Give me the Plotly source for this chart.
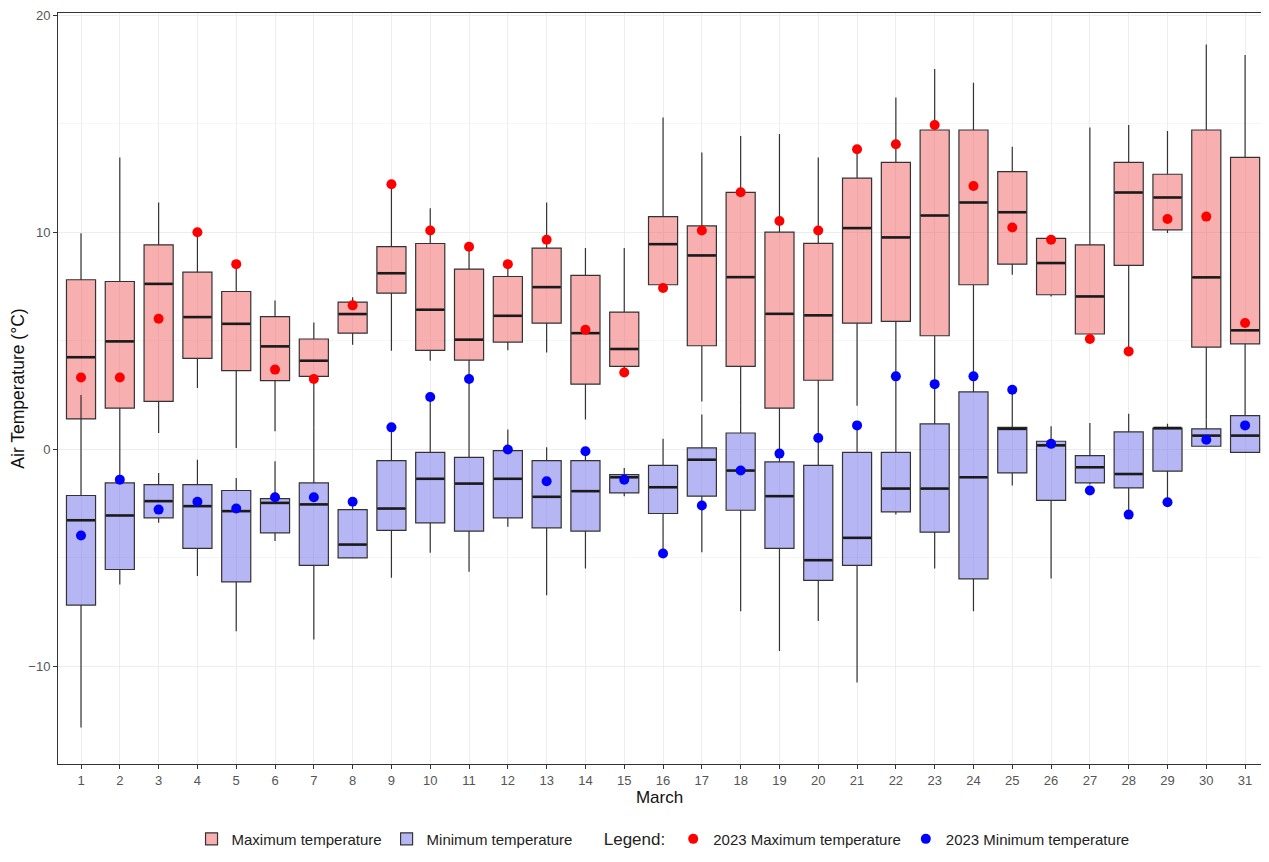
import plotly.graph_objects as go

days = list(range(1, 32))

# daily maximum temperature, box statistics
max_lf = [1.4, 0.2, 0.75, 2.82, 0.06, 0.83, 1.0, 4.82, 4.54, 4.08, 3.3, 4.56, 4.46, 1.37, 3.74, 7.58,
          2.2, 2.0, 0.0, 0.6, 2.0, 3.4, 3.0, 3.4, 8.04, 7.04, 5.31, 4.5, 9.96, 1.37, 1.55]
max_q1 = [1.40, 1.90, 2.21, 4.19, 3.62, 3.16, 3.36, 5.35, 7.19, 4.56, 4.11, 4.94, 5.81, 3.00, 3.82, 7.58,
          4.77, 3.82, 1.90, 3.18, 5.81, 5.89, 5.23, 7.58, 8.53, 7.12, 5.31, 8.47, 10.11, 4.71, 4.86]
max_med = [4.24, 4.97, 7.62, 6.09, 5.78, 4.74, 4.08, 6.23, 8.11, 6.43, 5.05, 6.15, 7.47, 5.35, 4.62, 9.45,
           8.93, 7.93, 6.24, 6.17, 10.19, 9.76, 10.77, 11.37, 10.92, 8.58, 7.04, 11.83, 11.60, 7.92, 5.48]
max_q3 = [7.81, 7.73, 9.42, 8.16, 7.27, 6.11, 5.08, 6.78, 9.34, 9.48, 8.30, 7.96, 9.27, 8.01, 6.32, 10.72,
          10.29, 11.84, 10.00, 9.49, 12.49, 13.22, 14.71, 14.71, 12.79, 9.72, 9.42, 13.22, 12.67, 14.71, 13.45]
max_uf = [9.95, 13.44, 11.37, 10.0, 8.53, 6.85, 5.84, 7.0, 12.21, 11.11, 9.33, 8.53, 11.37, 9.27, 9.27, 15.29,
          13.67, 14.43, 14.53, 13.44, 13.82, 16.21, 17.52, 16.89, 13.94, 9.72, 14.82, 14.94, 14.66, 18.65, 18.16]

# daily minimum temperature, box statistics
min_lf = [-12.82, -6.23, -3.39, -5.84, -8.38, -4.23, -8.76, -5.00, -5.92, -4.77, -5.64, -3.57, -6.72, -5.49,
          -2.16, -4.80, -4.74, -7.46, -9.29, -7.91, -10.75, -3.01, -5.49, -7.46, -1.67, -5.95, -1.62, -3.01,
          -2.44, 0.14, -0.14]
min_q1 = [-7.18, -5.54, -3.16, -4.57, -6.11, -3.85, -5.35, -5.00, -3.74, -3.39, -3.77, -3.16, -3.62, -3.77,
          -2.01, -2.96, -2.16, -2.81, -4.57, -6.04, -5.35, -2.88, -3.82, -5.97, -1.09, -2.35, -1.55, -1.78,
          -1.01, 0.14, -0.14]
min_med = [-3.27, -3.05, -2.39, -2.62, -2.85, -2.47, -2.54, -4.39, -2.73, -1.36, -1.58, -1.36, -2.19, -1.93,
           -1.29, -1.75, -0.48, -0.98, -2.16, -5.11, -4.08, -1.81, -1.81, -1.29, 0.94, 0.18, -0.83, -1.14,
           0.98, 0.63, 0.63]
min_q3 = [-2.13, -1.55, -1.63, -1.63, -1.90, -2.27, -1.55, -2.78, -0.52, -0.14, -0.37, -0.06, -0.52, -0.52,
          -1.17, -0.74, 0.06, 0.75, -0.58, -0.74, -0.14, -0.14, 1.17, 2.64, 1.01, 0.37, -0.29, 0.80,
          0.98, 0.94, 1.55]
min_uf = [2.5, 0.2, -1.09, -0.48, -1.32, -0.55, 1.0, -2.62, 1.01, 2.4, 3.2, 0.91, 0.09, 0.0,
          -0.86, 0.48, 1.6, 2.0, -0.2, 0.52, 1.1, 3.3, 3.0, 3.36, 2.74, 1.06, 1.21, 1.64,
          1.18, 1.37, 1.55]

# 2023 observations
max_2023 = [3.31, 3.31, 6.01, 10.0, 8.53, 3.67, 3.24, 6.63, 12.21, 10.08, 9.33, 8.53, 9.65, 5.51, 3.54, 7.43,
            10.08, 11.84, 10.52, 10.08, 13.82, 14.05, 14.94, 12.13, 10.22, 9.65, 5.08, 4.51, 10.61, 10.72, 5.82]
min_2023 = [-3.97, -1.40, -2.78, -2.42, -2.73, -2.21, -2.21, -2.42, 1.01, 2.41, 3.24, -0.01, -1.47, -0.09,
            -1.40, -4.80, -2.59, -0.98, -0.20, 0.52, 1.10, 3.36, 3.00, 3.36, 2.74, 0.25, -1.90, -3.01,
            -2.44, 0.44, 1.10]

edge = "#333333"
fig = go.Figure()
fig.add_trace(go.Box(x=days, q1=max_q1, median=max_med, q3=max_q3, lowerfence=max_lf, upperfence=max_uf,
                     name="Maximum temperature", fillcolor="rgba(240,96,96,0.5)", width=0.75,
                     line=dict(color=edge, width=1.2), boxpoints=False, whiskerwidth=0, hoverinfo="skip"))
fig.add_trace(go.Box(x=days, q1=min_q1, median=min_med, q3=min_q3, lowerfence=min_lf, upperfence=min_uf,
                     name="Minimum temperature", fillcolor="rgba(110,110,235,0.5)", width=0.75,
                     line=dict(color=edge, width=1.2), boxpoints=False, whiskerwidth=0, hoverinfo="skip"))
# thicker median bars, as in the original
for med in [max_med, min_med]:
    fig.add_trace(go.Scatter(x=days, y=med, mode="markers", showlegend=False, hoverinfo="skip",
                             marker=dict(symbol="line-ew", size=20, line=dict(color="#1a1a1a", width=2.6))))
fig.add_trace(go.Scatter(x=days, y=max_2023, mode="markers", name="2023 Maximum temperature",
                         marker=dict(color="red", size=10), legend="legend2"))
fig.add_trace(go.Scatter(x=days, y=min_2023, mode="markers", name="2023 Minimum temperature",
                         marker=dict(color="blue", size=10), legend="legend2"))

# the page body adds an 8px margin, so the figure is sized to fit inside it
fig.update_layout(
    width=1253, height=846,
    margin=dict(l=50, r=0, t=5, b=90, autoexpand=False),
    plot_bgcolor="white", paper_bgcolor="white",
    boxmode="overlay",
    font=dict(family="Liberation Sans, Arial, sans-serif", color="#222222"),
    legend=dict(orientation="h", x=0.111, y=-0.1, xanchor="left", yanchor="middle",
                font=dict(size=15), itemwidth=30),
    legend2=dict(orientation="h", x=0.452, y=-0.1, xanchor="left", yanchor="middle",
                 title=dict(text="Legend:", font=dict(size=17)), font=dict(size=15)),
)
fig.update_xaxes(range=[0.407, 31.41], tickmode="array", tickvals=days, ticktext=[str(d) for d in days],
                 showgrid=True, gridcolor="#EDEDED", gridwidth=1, zeroline=False, automargin=False,
                 showline=True, mirror=True, linecolor=edge, linewidth=1,
                 ticks="outside", ticklen=4, tickcolor=edge, tickfont=dict(size=13, color="#555555"),
                 title=dict(text="March", font=dict(size=17, color="#111111"), standoff=4))
fig.update_yaxes(range=[-14.5, 20.1], tickvals=[-10, 0, 10, 20], ticklabeloverflow="allow",
                 showgrid=True, gridcolor="#EDEDED", gridwidth=1, zeroline=False, automargin=False,
                 minor=dict(tickvals=[-5, 5, 15], showgrid=True, gridcolor="#F5F5F5", ticks=""),
                 showline=True, mirror=True, linecolor=edge, linewidth=1,
                 ticks="outside", ticklen=4, tickcolor=edge, tickfont=dict(size=13, color="#555555"),
                 title=dict(text="Air Temperature (°C)", font=dict(size=17.5, color="#111111"), standoff=4))

fig.write_html("out.html")
